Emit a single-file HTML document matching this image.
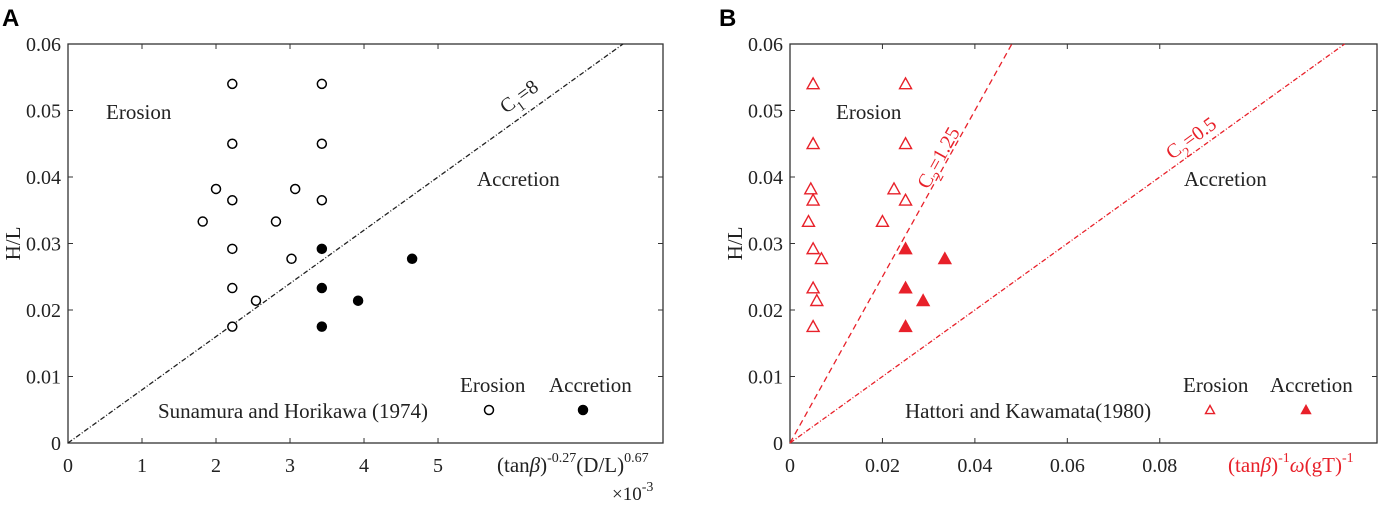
<!DOCTYPE html>
<html><head><meta charset="utf-8"><style>
body{margin:0;background:#fff;width:1380px;height:503px;overflow:hidden}
svg text{font-family:"Liberation Serif",serif}
</style></head><body>
<svg id="s" width="1380" height="503" xmlns="http://www.w3.org/2000/svg"></svg>
<script>
const aOpenX=[2.22,3.43,2.22,3.43,2.0,3.07,2.22,3.43,1.82,2.81,2.22,3.02,2.22,2.54,2.22];
const aOpenY=[0.054,0.054,0.045,0.045,0.0382,0.0382,0.0365,0.0365,0.0333,0.0333,0.0292,0.0277,0.0233,0.0214,0.0175];
const aFillX=[3.43,3.43,3.43,3.92,4.65];
const aFillY=[0.0292,0.0233,0.0175,0.0214,0.0277];
const bOpenX=[0.005,0.025,0.005,0.025,0.0045,0.0225,0.005,0.025,0.004,0.020,0.005,0.0068,0.005,0.0058,0.005];
const bOpenY=[0.054,0.054,0.045,0.045,0.0382,0.0382,0.0365,0.0365,0.0333,0.0333,0.0292,0.0277,0.0233,0.0214,0.0175];
const bFillX=[0.025,0.025,0.025,0.0288,0.0335];
const bFillY=[0.0292,0.0233,0.0175,0.0214,0.0277];
const yTicks=[0,0.01,0.02,0.03,0.04,0.05,0.06];
const aXTicks=[0,1,2,3,4,5];
const bXTicks=[0,0.02,0.04,0.06,0.08];
const aSlope=8, bSlope1=1.25, bSlope2=0.5;

const S=document.getElementById('s');const NS='http://www.w3.org/2000/svg';
function el(t,a,txt){const e=document.createElementNS(NS,t);for(const k in a)e.setAttribute(k,a[k]);if(txt!==undefined)e.textContent=txt;S.appendChild(e);return e;}
const yTop=44,yBot=443;
function Y(v){return yBot-(v/0.06)*(yBot-yTop);}
function panel(L,R,xmax,xTicks,fmt,name){
  const X=v=>L+v/xmax*(R-L);
  let f=el('rect',{x:L,y:yTop,width:R-L,height:yBot-yTop,fill:'none',stroke:'#333','stroke-width':1.3});
  
  yTicks.forEach(t=>{const y=Y(t);
    let l=el('path',{d:`M${L} ${y}h5M${R} ${y}h-5`,stroke:'#333'});
    
    let tx=el('text',{x:L-7,y:y+7,'text-anchor':'end','font-size':20,fill:'#222'},t===0?'0':t.toFixed(2));
    });
  xTicks.forEach(t=>{const x=X(t);
    let l=el('path',{d:`M${x} ${yBot}v-5M${x} ${yTop}v5`,stroke:'#333'});
    
    let tx=el('text',{x:x,y:yBot+29,'text-anchor':'middle','font-size':20,fill:'#222'},fmt(t));
    });
  let yl=el('text',{transform:`translate(${L-48},${Y(0.03)}) rotate(-90)`,'text-anchor':'middle','font-size':21,fill:'#222'},'H/L');
  
  return X;
}
function line(X,slope,xmax,color,dash,name){
  const xe=Math.min(xmax,0.06/slope);
  let l=el('line',{x1:X(0),y1:Y(0),x2:X(xe),y2:Y(xe*slope),stroke:color,'stroke-width':1.3,'stroke-dasharray':dash});
  
}
function circ(x,y,fill,name){let c=el('circle',{cx:x,cy:y,r:4.5,fill:fill,stroke:'#000','stroke-width':1.5});
  }
function tri(x,y,fill,name,s){s=s||6;let p=el('polygon',{points:`${x},${y-s} ${x-s},${y+s*0.8} ${x+s},${y+s*0.8}`,fill:fill,stroke:'#e8212a','stroke-width':1.4});
  }
function txt(x,y,s,size,color,name,extra){let t=el('text',Object.assign({x:x,y:y,'font-size':size,fill:color},extra||{}));t.innerHTML=s;
  return t;}

// Panel A
const XA=panel(68,663,8.04,aXTicks,t=>String(t),'panel-a');
line(XA,aSlope/1000,8.04,'#222','5 2 1 2','c1-line');
aOpenX.forEach((x,i)=>circ(XA(x),Y(aOpenY[i]),'#fff','erosion-point-a'));
aFillX.forEach((x,i)=>circ(XA(x),Y(aFillY[i]),'#000','accretion-point-a'));
txt(2,26,'A',24,'#000','panel-a-label',{'font-weight':'bold','style':'font-family:Liberation Sans,sans-serif'});
txt(106,119,'Erosion',21,'#222','erosion-region-label-a');
txt(477,186,'Accretion',21,'#222','accretion-region-label-a');
txt(506,114,'C<tspan font-size="14" dy="7">1</tspan><tspan dy="-7">=8</tspan>',20,'#222','c1-label',{transform:'rotate(-36 506 114)'});
txt(158,418,'Sunamura and Horikawa (1974)',21,'#222','source-label-a');
txt(460,392,'Erosion',21,'#222','legend-erosion-a');
txt(549,392,'Accretion',21,'#222','legend-accretion-a');
circ(489,410,'#fff','legend-erosion-marker-a');circ(583,410,'#000','legend-accretion-marker-a');
txt(497,472,'(tan<tspan font-style="italic">β</tspan>)<tspan font-size="14" dy="-10">-0.27</tspan><tspan dy="10">(D/L)</tspan><tspan font-size="14" dy="-10">0.67</tspan>',21,'#222','x-axis-title-a');
txt(612,500,'×10<tspan font-size="14" dy="-9">-3</tspan>',19,'#222','x-axis-exponent-a');

// Panel B
const XB=panel(790,1377,0.127,bXTicks,t=>t===0?'0':t.toFixed(2),'panel-b');
line(XB,bSlope1,0.127,'#e8212a','6 4','c2-line-1-25');
line(XB,bSlope2,0.127,'#e8212a','5 2 1 2','c2-line-0-5');
bOpenX.forEach((x,i)=>tri(XB(x),Y(bOpenY[i]),'#fff','erosion-point-b'));
bFillX.forEach((x,i)=>tri(XB(x),Y(bFillY[i]),'#e8212a','accretion-point-b'));
txt(719,26,'B',24,'#000','panel-b-label',{'font-weight':'bold','style':'font-family:Liberation Sans,sans-serif'});
txt(836,119,'Erosion',21,'#222','erosion-region-label-b');
txt(1184,186,'Accretion',21,'#222','accretion-region-label-b');
txt(928,190,'C<tspan font-size="14" dy="7">2</tspan><tspan dy="-7">=1.25</tspan>',20,'#e8212a','c2-label-1-25',{transform:'rotate(-61 928 190)'});
txt(1172,160,'C<tspan font-size="14" dy="7">2</tspan><tspan dy="-7">=0.5</tspan>',20,'#e8212a','c2-label-0-5',{transform:'rotate(-36 1172 160)'});
txt(905,418,'Hattori and Kawamata(1980)',21,'#222','source-label-b');
txt(1183,392,'Erosion',21,'#222','legend-erosion-b');
txt(1270,392,'Accretion',21,'#222','legend-accretion-b');
tri(1210,410,'#fff','legend-erosion-marker-b',4.5);tri(1306,410,'#e8212a','legend-accretion-marker-b',4.5);
txt(1228,472,'(tan<tspan font-style="italic">β</tspan>)<tspan font-size="14" dy="-10">-1</tspan><tspan dy="10" font-style="italic">ω</tspan><tspan>(gT)</tspan><tspan font-size="14" dy="-10">-1</tspan>',21,'#e8212a','x-axis-title-b');
</script>
</body></html>
